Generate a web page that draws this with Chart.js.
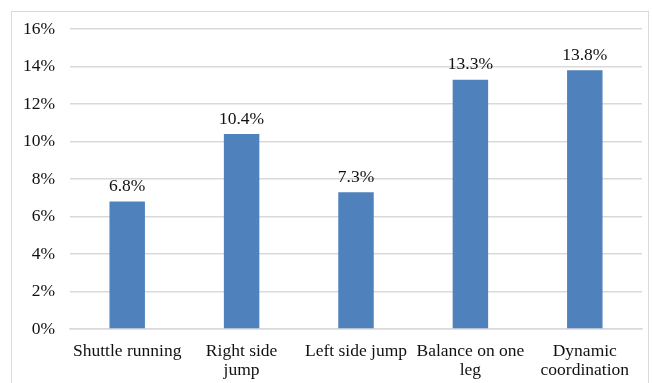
<!DOCTYPE html>
<html>
<head>
<meta charset="utf-8">
<script src="https://cdn.jsdelivr.net/npm/chart.js@4/dist/chart.umd.min.js"></script>
<style>
  html, body { margin: 0; padding: 0; background: #fff; }
  #wrap { position: relative; width: 652px; height: 383px; }
  #frame { position: absolute; left: 11px; top: 11px; width: 638px; height: 380px; border: 1px solid #d9d9d9; box-sizing: border-box; pointer-events: none; }
  canvas { position: absolute; left: 0; top: 0; }
</style>
</head>
<body>
<div id="wrap">
  <canvas id="c" width="652" height="383"></canvas>
  <div id="frame"></div>
</div>
<script>
// Categories (multi-line where the label wraps)
const categories = [
  'Shuttle running',
  ['Right side', 'jump'],
  'Left side jump',
  ['Balance on one', 'leg'],
  ['Dynamic', 'coordination']
];
// Percentage values per test
const values = [6.8, 10.4, 7.3, 13.3, 13.8];
// Y axis range and step (percent)
const yMin = 0, yMax = 16, yStep = 2;

const FONT = "'Liberation Serif', 'Times New Roman', serif";
const FONT_SIZE = 17.5;
const TEXT = '#111';

// Draws the value above each bar
const valueLabels = {
  id: 'valueLabels',
  afterDatasetsDraw(chart) {
    const ctx = chart.ctx;
    const meta = chart.getDatasetMeta(0);
    ctx.save();
    ctx.font = FONT_SIZE + 'px ' + FONT;
    ctx.fillStyle = TEXT;
    ctx.textAlign = 'center';
    ctx.textBaseline = 'alphabetic';
    meta.data.forEach((bar, i) => {
      ctx.fillText(values[i].toFixed(1) + '%', bar.x, bar.y - 10.5);
    });
    ctx.restore();
  }
};

new Chart(document.getElementById('c'), {
  type: 'bar',
  data: {
    labels: categories,
    datasets: [{
      data: values,
      backgroundColor: '#4F81BD',
      borderWidth: 0,
      barPercentage: 0.31,
      categoryPercentage: 1
    }]
  },
  options: {
    responsive: false,
    animation: false,
    devicePixelRatio: 1,
    layout: { padding: { left: 11, top: 29, right: 10, bottom: 0 } },
    plugins: {
      legend: { display: false },
      tooltip: { enabled: false }
    },
    scales: {
      y: {
        min: yMin,
        max: yMax,
        ticks: {
          stepSize: yStep,
          padding: 15,
          color: TEXT,
          font: { family: FONT, size: FONT_SIZE },
          callback: v => v + '%'
        },
        grid: { color: '#d9d9d9', lineWidth: 1.5, drawTicks: false },
        border: { display: false },
        afterFit(scale) { scale.width = 59; }
      },
      x: {
        ticks: {
          padding: 13,
          color: TEXT,
          maxRotation: 0,
          autoSkip: false,
          font: { family: FONT, size: FONT_SIZE, lineHeight: 1.1 }
        },
        grid: { display: false, drawTicks: false },
        border: { display: true, color: '#d9d9d9', width: 1.5 },
        afterFit(scale) { scale.height = 54; }
      }
    }
  },
  plugins: [valueLabels]
});
</script>
</body>
</html>
